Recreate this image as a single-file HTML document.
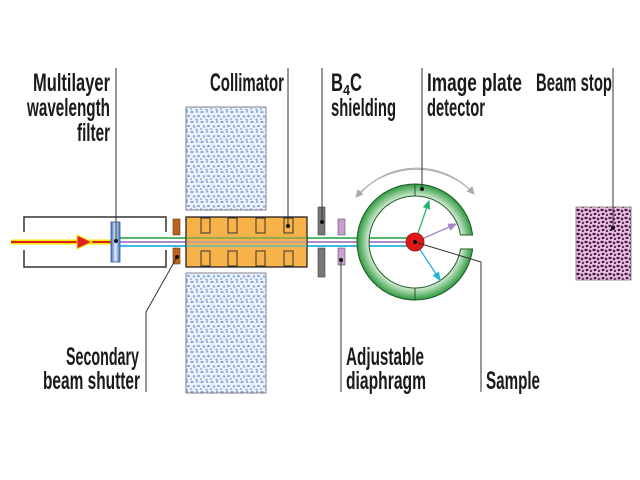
<!DOCTYPE html>
<html><head><meta charset="utf-8"><style>
html,body{margin:0;padding:0;background:#fff}
svg{display:block}
text{font-family:"Liberation Sans",sans-serif;font-size:25px;fill:#1a1a1a;font-weight:bold}
</style></head><body>
<svg width="640" height="480" viewBox="0 0 640 480" xmlns="http://www.w3.org/2000/svg">
<defs>
<pattern id="conc" width="10" height="10" patternUnits="userSpaceOnUse">
<rect width="10" height="10" fill="#edf2fa"/>
<ellipse cx="2" cy="2" rx="1.6" ry="1" fill="#7fa2d8"/>
<ellipse cx="7" cy="1.5" rx="1.1" ry="1.4" fill="#8fb0e0"/>
<ellipse cx="8.5" cy="6" rx="1.5" ry="1" fill="#7fa2d8"/>
<ellipse cx="4" cy="6.5" rx="1.3" ry="1.4" fill="#96b5e2"/>
<ellipse cx="1" cy="9" rx="1.2" ry="0.9" fill="#8fb0e0"/>
<ellipse cx="6.5" cy="9.5" rx="1.2" ry="0.8" fill="#7fa2d8"/>
</pattern>
<pattern id="stop" width="8" height="8" patternUnits="userSpaceOnUse">
<rect width="8" height="8" fill="#e6bfe4"/>
<ellipse cx="2" cy="2" rx="1.7" ry="1.2" fill="#4e1e40"/>
<ellipse cx="6" cy="3" rx="1.3" ry="1.5" fill="#5e2850"/>
<ellipse cx="3" cy="6" rx="1.5" ry="1.1" fill="#4e1e40"/>
<ellipse cx="7" cy="7" rx="1.1" ry="1.2" fill="#5e2850"/>
</pattern>
<linearGradient id="filt" x1="0" x2="1"><stop offset="0" stop-color="#3a6fc0"/><stop offset="0.5" stop-color="#e8eef8"/><stop offset="1" stop-color="#3a6fc0"/></linearGradient>
<radialGradient id="ring" cx="415" cy="242" r="58" gradientUnits="userSpaceOnUse"><stop offset="0.79" stop-color="#d8eed8"/><stop offset="1" stop-color="#2e9a3e"/></radialGradient>
<marker id="ag" markerWidth="8" markerHeight="8" refX="6" refY="4" orient="auto"><path d="M0,1 L7,4 L0,7z" fill="#2cb56a"/></marker>
<marker id="ap" markerWidth="8" markerHeight="8" refX="6" refY="4" orient="auto"><path d="M0,1 L7,4 L0,7z" fill="#a884c0"/></marker>
<marker id="ab" markerWidth="8" markerHeight="8" refX="6" refY="4" orient="auto"><path d="M0,1 L7,4 L0,7z" fill="#22b0d8"/></marker>
<marker id="agr" markerWidth="10" markerHeight="10" refX="7" refY="5" orient="auto"><path d="M0,1 L8,5 L0,9z" fill="#aaa"/></marker>
</defs>

<rect x="186" y="107" width="80" height="103" fill="url(#conc)" stroke="#667" stroke-width="0.8"/>
<rect x="186" y="273" width="80" height="120" fill="url(#conc)" stroke="#667" stroke-width="0.8"/>

<path d="M24,232 V217 H166 V232 M24,250 V267 H166 V250" fill="none" stroke="#333" stroke-width="1.5"/>

<line x1="11" y1="242" x2="112" y2="242" stroke="#f7e600" stroke-width="5"/>
<line x1="11" y1="242" x2="112" y2="242" stroke="#e02020" stroke-width="2"/>
<path d="M77,235 L92,242 L77,249z" fill="#e02020" stroke="#f7e600" stroke-width="1"/>

<line x1="120" y1="238" x2="408" y2="238" stroke="#3cb054" stroke-width="1.8"/>
<line x1="120" y1="242" x2="408" y2="242" stroke="#a07cc0" stroke-width="1.8"/>
<line x1="120" y1="246" x2="408" y2="246" stroke="#20b0e0" stroke-width="1.8"/>

<rect x="111" y="222" width="9" height="40" fill="url(#filt)" stroke="#2a5aa8" stroke-width="0.8"/>

<rect x="173" y="219" width="7" height="16" fill="#b8641e" stroke="#6a3a10" stroke-width="0.6"/>
<rect x="173" y="248" width="7" height="16" fill="#b8641e" stroke="#6a3a10" stroke-width="0.6"/>

<rect x="186" y="217" width="121" height="50" fill="#f8b24a" stroke="#222" stroke-width="1.3"/>
<g fill="none" stroke="#333" stroke-width="1">
<rect x="201" y="218" width="9" height="15"/><rect x="228" y="218" width="9" height="15"/><rect x="256" y="218" width="9" height="15"/><rect x="284" y="218" width="9" height="15"/>
<rect x="201" y="251" width="9" height="15"/><rect x="228" y="251" width="9" height="15"/><rect x="256" y="251" width="9" height="15"/><rect x="284" y="251" width="9" height="15"/>
</g>
<line x1="186" y1="238" x2="307" y2="238" stroke="#5aa050" stroke-width="1.8" opacity="0.7"/>
<line x1="186" y1="242" x2="307" y2="242" stroke="#b090c0" stroke-width="1.8" opacity="0.7"/>
<line x1="186" y1="246" x2="307" y2="246" stroke="#40b8e0" stroke-width="1.8" opacity="0.7"/>

<rect x="318" y="207" width="7" height="28" fill="#777" stroke="#444" stroke-width="0.6"/>
<rect x="318" y="248" width="7" height="29" fill="#777" stroke="#444" stroke-width="0.6"/>
<rect x="338" y="219" width="7" height="16" fill="#c8a0d4" stroke="#555" stroke-width="0.6"/>
<rect x="338" y="248" width="7" height="17" fill="#c8a0d4" stroke="#555" stroke-width="0.6"/>

<path d="M472.6,249 A58,58 0 1 1 472.6,235 L460.5,235 A46,46 0 1 0 460.5,249 Z" fill="url(#ring)" stroke="#1e5a28" stroke-width="1"/>
<line x1="415" y1="184" x2="415" y2="196" stroke="#1e5a28" stroke-width="1"/>
<line x1="415" y1="288" x2="415" y2="300" stroke="#1e5a28" stroke-width="1"/>

<path d="M358,196 A76,76 0 0 1 474,194" fill="none" stroke="#aaa" stroke-width="1" marker-end="url(#agr)"/>
<path d="M468,188 A80,80 0 0 0 356,197" fill="none" stroke="#aaa" stroke-width="1" marker-end="url(#agr)"/>

<line x1="415" y1="242" x2="429" y2="201" stroke="#2cb56a" stroke-width="1.3" marker-end="url(#ag)"/>
<line x1="415" y1="242" x2="456" y2="224" stroke="#a884c0" stroke-width="1.3" marker-end="url(#ap)"/>
<line x1="415" y1="242" x2="440" y2="280" stroke="#22b0d8" stroke-width="1.3" marker-end="url(#ab)"/>

<circle cx="415" cy="242" r="9" fill="#e01818" stroke="#901010" stroke-width="0.8"/>

<rect x="576" y="207" width="55" height="73" fill="url(#stop)" stroke="#777" stroke-width="0.8"/>

<g stroke="#333" stroke-width="1" fill="none">
<line x1="116" y1="68" x2="116" y2="241"/>
<line x1="288" y1="68" x2="288" y2="226"/>
<line x1="322" y1="68" x2="322" y2="222"/>
<line x1="422" y1="68" x2="422" y2="187"/>
<line x1="613" y1="68" x2="613" y2="228"/>
<polyline points="177,257 146,312 146,392"/>
<line x1="341" y1="258" x2="341" y2="392"/>
<polyline points="415,242 481,262 481,392"/>
</g>
<g fill="#111">
<circle cx="116" cy="241" r="2"/><circle cx="288" cy="226" r="2"/><circle cx="322" cy="222" r="2"/>
<circle cx="422" cy="189" r="2"/><circle cx="613" cy="228" r="2"/><circle cx="177" cy="257" r="2"/>
<circle cx="341" cy="260" r="2"/><circle cx="415" cy="242" r="2"/>
</g>

<text x="33" y="91" textLength="77" lengthAdjust="spacingAndGlyphs">Multilayer</text>
<text x="27" y="116" textLength="83" lengthAdjust="spacingAndGlyphs">wavelength</text>
<text x="77" y="141" textLength="33" lengthAdjust="spacingAndGlyphs">filter</text>
<text x="210" y="91" textLength="74" lengthAdjust="spacingAndGlyphs">Collimator</text>
<text x="331" y="91" textLength="12" lengthAdjust="spacingAndGlyphs">B</text>
<text x="343" y="95" style="font-size:15px" textLength="7" lengthAdjust="spacingAndGlyphs">4</text>
<text x="350" y="91" textLength="12" lengthAdjust="spacingAndGlyphs">C</text>
<text x="331" y="116" textLength="65" lengthAdjust="spacingAndGlyphs">shielding</text>
<text x="427" y="91" textLength="95" lengthAdjust="spacingAndGlyphs">Image plate</text>
<text x="427" y="116" textLength="58" lengthAdjust="spacingAndGlyphs">detector</text>
<text x="536" y="91" textLength="76" lengthAdjust="spacingAndGlyphs">Beam stop</text>
<text x="66" y="365" textLength="73" lengthAdjust="spacingAndGlyphs">Secondary</text>
<text x="43" y="389" textLength="97" lengthAdjust="spacingAndGlyphs">beam shutter</text>
<text x="346" y="365" textLength="78" lengthAdjust="spacingAndGlyphs">Adjustable</text>
<text x="346" y="389" textLength="80" lengthAdjust="spacingAndGlyphs">diaphragm</text>
<text x="486" y="389" textLength="54" lengthAdjust="spacingAndGlyphs">Sample</text>
</svg>
</body></html>
